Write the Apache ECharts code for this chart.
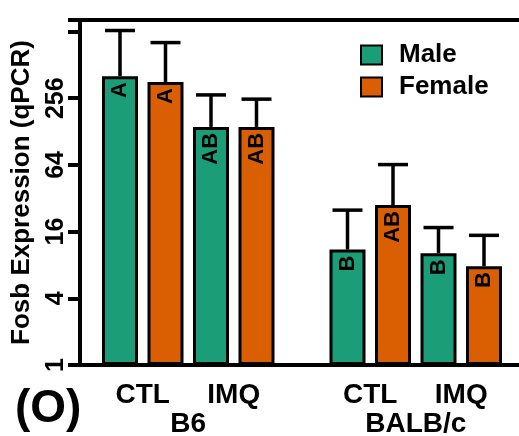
<!DOCTYPE html>
<html>
<head>
<meta charset="utf-8">
<script src="https://cdn.jsdelivr.net/npm/echarts@6/dist/echarts.min.js"></script>
<style>html,body{margin:0;padding:0;background:#fff;}#c{width:519px;height:436px;}</style>
</head>
<body>
<div id="c"></div>
<script>
// ---- data ----
const strains = ['B6', 'BALB/c'];
const treatments = ['CTL', 'IMQ'];
const sexes = ['Male', 'Female'];
// order: B6 CTL, B6 IMQ, BALB/c CTL, BALB/c IMQ
const maleMean = [404, 141, 11.0, 10.2];
const maleUpper = [1045, 274, 25.0, 17.4];
const femaleMean = [358, 141, 27.8, 7.8];
const femaleUpper = [813, 251, 64.4, 14.8];
const maleLetters = ['A', 'AB', 'B', 'B'];
const femaleLetters = ['A', 'AB', 'AB', 'B'];
const tickLabels = [1, 4, 16, 64, 256];
const yMin = 1, yMax = 1300;

// ---- build slots ----
const perStrain = treatments.length * sexes.length + 1;
const nSlots = strains.length * perStrain - 1;
const slotCats = Array.from({length: nSlots}, (_, i) => 's' + i);
const maleData = Array(nSlots).fill('-');
const femaleData = Array(nSlots).fill('-');
const errData = [];
const letterBySlot = {};
strains.forEach((s, si) => treatments.forEach((t, ti) => {
  const k = si * treatments.length + ti;
  const base = si * perStrain + ti * sexes.length;
  maleData[base] = maleMean[k];
  femaleData[base + 1] = femaleMean[k];
  errData.push([base, maleMean[k], maleUpper[k]]);
  errData.push([base + 1, femaleMean[k], femaleUpper[k]]);
  letterBySlot[base] = maleLetters[k];
  letterBySlot[base + 1] = femaleLetters[k];
}));
const treatCats = Array(nSlots + 1).fill('');
const strainCats = Array(nSlots + 1).fill('');
strains.forEach((s, si) => {
  strainCats[si * perStrain + treatments.length] = s;
  treatments.forEach((t, ti) => { treatCats[si * perStrain + ti * sexes.length + 1] = t; });
});

const FONT = 'Liberation Sans, Arial, sans-serif';
const chart = echarts.init(document.getElementById('c'), null, {renderer: 'canvas'});
const barLabel = {
  show: true, position: 'insideTop', rotate: 90, align: 'right', verticalAlign: 'middle',
  distance: 6, fontSize: 22, fontWeight: 'bold', fontFamily: FONT, color: '#000',
  formatter: p => letterBySlot[p.dataIndex] || ''
};
chart.setOption({
  animation: false,
  backgroundColor: '#fff',
  title: {text: '(O)', left: 10, top: 381, textStyle: {fontSize: 46, fontWeight: 'bold', fontFamily: FONT, color: '#000'}},
  legend: {
    data: sexes, orient: 'vertical', left: 355, top: 37, itemWidth: 21, itemHeight: 19, itemGap: 6,
    icon: 'rect', itemStyle: {borderColor: '#000', borderWidth: 2},
    textStyle: {fontSize: 26, fontWeight: 'bold', fontFamily: FONT, color: '#000', padding: [0, 0, 0, 12]}
  },
  grid: [
    {left: 97.25, width: 409.5, top: 20, bottom: 71, show: false, outerBoundsMode: 'none', containLabel: false},
    {left: 80, right: -10, top: 20, bottom: 71, show: true, borderColor: '#000', borderWidth: 4,
     backgroundColor: 'transparent', outerBoundsMode: 'none', containLabel: false}
  ],
  xAxis: [
    {type: 'category', gridIndex: 0, data: slotCats, axisLine: {show: false}, axisTick: {show: false}, axisLabel: {show: false}},
    {type: 'category', gridIndex: 0, data: treatCats, boundaryGap: false, position: 'bottom',
     axisLine: {show: false}, axisTick: {show: false},
     axisLabel: {interval: 0, margin: 16, fontSize: 28, fontWeight: 'bold', fontFamily: FONT, color: '#000'}},
    {type: 'category', gridIndex: 0, data: strainCats, boundaryGap: false, position: 'bottom',
     axisLine: {show: false}, axisTick: {show: false},
     axisLabel: {interval: 0, margin: 45, fontSize: 28, fontWeight: 'bold', fontFamily: FONT, color: '#000'}},
    {type: 'value', gridIndex: 1, show: false}
  ],
  yAxis: [
    {type: 'log', logBase: 4, gridIndex: 0, min: yMin, max: yMax, show: false},
    {type: 'log', logBase: 4, gridIndex: 1, min: yMin, max: yMax,
     name: 'Fosb Expression (qPCR)', nameLocation: 'middle', nameRotate: 90, nameGap: 45,
     nameTextStyle: {fontSize: 26, fontWeight: 'bold', fontFamily: FONT, color: '#000'},
     axisLine: {show: false},
     axisTick: {show: true, length: 12, inside: false, lineStyle: {color: '#000', width: 4}},
     splitLine: {show: false},
     axisLabel: {rotate: 90, margin: 11, fontSize: 25, fontWeight: 'bold', fontFamily: FONT, color: '#000',
       formatter: v => tickLabels.some(t => Math.abs(t - v) < 1e-6) ? String(Math.round(v)) : ''}}
  ],
  series: [
    {type: 'custom', xAxisIndex: 0, yAxisIndex: 0, z: 1, data: errData, silent: true,
     renderItem: (params, api) => {
       const x = api.value(0);
       const p0 = api.coord([x, api.value(1)]);
       const p1 = api.coord([x, api.value(2)]);
       const hw = 15;
       return {type: 'group', children: [
         {type: 'line', shape: {x1: p0[0], y1: p0[1], x2: p1[0], y2: p1[1]}, style: {stroke: '#000', lineWidth: 3.5}},
         {type: 'line', shape: {x1: p1[0] - hw, y1: p1[1], x2: p1[0] + hw, y2: p1[1]}, style: {stroke: '#000', lineWidth: 3.5}}
       ]};
     }},
    {name: 'Male', type: 'bar', xAxisIndex: 0, yAxisIndex: 0, z: 2, data: maleData, barWidth: 36, barGap: '-100%',
     itemStyle: {color: '#1b9e77', borderColor: '#000', borderWidth: 3}, label: barLabel},
    {name: 'Female', type: 'bar', xAxisIndex: 0, yAxisIndex: 0, z: 2, data: femaleData, barWidth: 36, barGap: '-100%',
     itemStyle: {color: '#d95f02', borderColor: '#000', borderWidth: 3}, label: barLabel}
  ]
});
</script>
</body>
</html>
